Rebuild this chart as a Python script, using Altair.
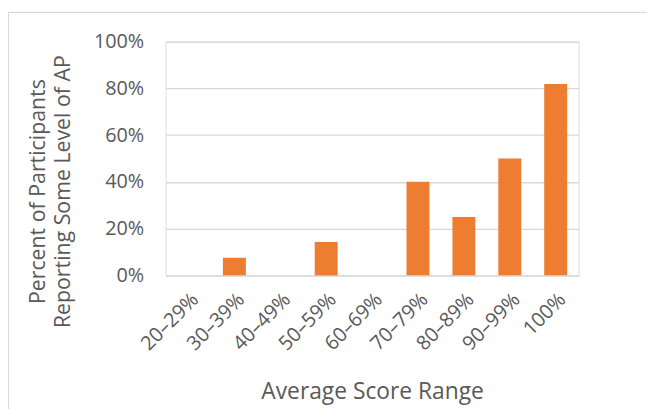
import altair as alt
import pandas as pd

categories = ["20–29%", "30–39%", "40–49%", "50–59%", "60–69%", "70–79%", "80–89%", "90–99%", "100%"]
values = [0.0, 0.075, 0.0, 0.143, 0.0, 0.40, 0.25, 0.50, 0.818]

df = pd.DataFrame({"range": categories, "pct": values})

FONT = "Open Sans"
TXT = "#595959"
GRID = "#D9D9D9"

bars = alt.Chart(df).mark_bar(color="#ED7D31").encode(
    x=alt.X(
        "range:N",
        sort=categories,
        scale=alt.Scale(paddingInner=0.5, paddingOuter=0.25),
        axis=alt.Axis(
            title="Average Score Range",
            labelAngle=-45,
            labelFontSize=20,
            labelColor=TXT,
            labelFont=FONT,
            labelPadding=14,
            ticks=False,
            domainColor=GRID,
            domainWidth=1.3,
            titleFont=FONT,
            titleFontSize=23,
            titleFontWeight="normal",
            titleColor=TXT,
            titleY=117,
            titleBaseline="middle",
        ),
    ),
    y=alt.Y(
        "pct:Q",
        scale=alt.Scale(domain=[0, 1]),
        axis=alt.Axis(
            title=["Percent of Participants", "Reporting Some Level of AP"],
            format=".0%",
            values=[0, 0.2, 0.4, 0.6, 0.8, 1.0],
            labelFontSize=20,
            labelColor=TXT,
            labelFont=FONT,
            labelPadding=22,
            ticks=False,
            domain=False,
            gridColor=GRID,
            gridWidth=1.3,
            titleFont=FONT,
            titleFontSize=21.5,
            titleFontWeight="normal",
            titleColor=TXT,
            titleAngle=-90,
            titleX=-128,
            titleY=151,
            titleAlign="center",
            titleBaseline="middle",
            titleLineHeight=25,
        ),
    ),
)

border = alt.Chart(pd.DataFrame({"a": [0]})).mark_rect(
    fill=None, stroke=GRID, strokeWidth=1.3
).encode(
    x=alt.value(-158.5), x2=alt.value(520), y=alt.value(-29.5), y2=alt.value(420)
)

chart = alt.layer(border, bars).properties(
    width=417,
    height=236,
    autosize=alt.AutoSizeParams(type="none"),
    padding={"left": 159, "top": 32, "right": 69, "bottom": 133},
).configure_view(stroke=None).configure(background="white")

chart.save("out.html", embed_options={"renderer": "svg", "actions": False})
